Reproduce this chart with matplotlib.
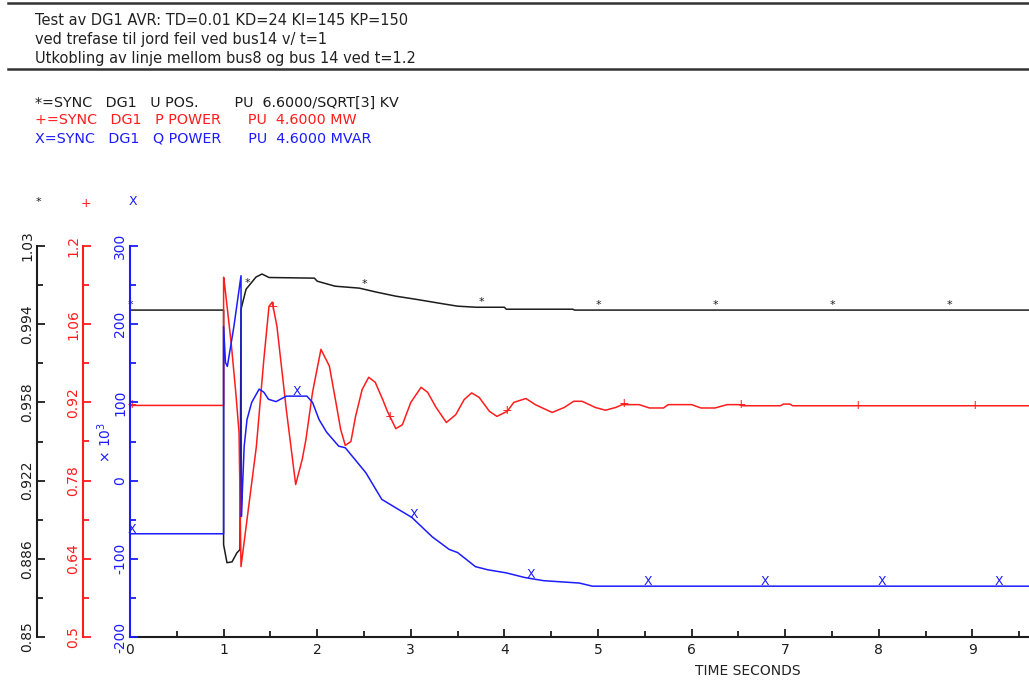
import numpy as np
import matplotlib.pyplot as plt
from matplotlib.lines import Line2D
from matplotlib.ticker import FixedLocator, MultipleLocator

plt.rcParams['font.family'] = ['DejaVu Sans']

W, H = 1029, 680

title_lines = ["Test av DG1 AVR: TD=0.01 KD=24 KI=145 KP=150",
               "ved trefase til jord feil ved bus14 v/ t=1",
               "Utkobling av linje mellom bus8 og bus 14 ved t=1.2"]
legend_lines = ["*=SYNC   DG1   U POS.        PU  6.6000/SQRT[3] KV",
                "+=SYNC   DG1   P POWER      PU  4.6000 MW",
                "X=SYNC   DG1   Q POWER      PU  4.6000 MVAR"]

# U POS. (pu)
u_t = [0, 1.0, 1.0, 1.036, 1.09, 1.143, 1.175, 1.186, 1.24, 1.346, 1.41, 1.485,
       1.97, 2.0, 2.19, 2.45, 2.63, 2.84, 3.05, 3.23, 3.37, 3.5, 3.7, 4.0, 4.02,
       4.73, 4.75, 9.6]
u_v = [1.0005, 1.0005, 0.8925, 0.8842, 0.8846, 0.8888, 0.8902, 1.0009, 1.0101,
       1.0157, 1.0171, 1.0155, 1.0152, 1.0138, 1.0115, 1.0106, 1.0088, 1.0069,
       1.0055, 1.0042, 1.0032, 1.0023, 1.0018, 1.0018, 1.0009, 1.0009, 1.0005,
       1.0005]

# P POWER (pu)
p_t = [0, 1.0, 1.0, 1.004, 1.08, 1.13, 1.165, 1.186, 1.24, 1.35, 1.43, 1.485,
       1.52, 1.57, 1.67, 1.77, 1.84, 1.88, 1.95, 2.04, 2.13, 2.2, 2.25, 2.30,
       2.36, 2.41, 2.48, 2.55, 2.62, 2.70, 2.75, 2.84, 2.91, 3.0, 3.11, 3.18,
       3.27, 3.38, 3.48, 3.57, 3.65, 3.73, 3.84, 3.92, 4.03, 4.1, 4.23, 4.33,
       4.51, 4.64, 4.74, 4.83, 4.97, 5.08, 5.19, 5.26, 5.44, 5.55, 5.7, 5.75,
       6.0, 6.1, 6.25, 6.38, 6.5, 6.55, 6.95, 6.98, 7.05, 7.08, 9.6]
p_v = [0.9146, 0.9146, 1.144, 1.141, 1.028, 0.938, 0.866, 0.626, 0.697, 0.841,
       0.997, 1.092, 1.0995, 1.056, 0.907, 0.773, 0.818, 0.854, 0.938, 1.015,
       0.985, 0.920, 0.872, 0.843, 0.850, 0.895, 0.943, 0.965, 0.956, 0.925,
       0.904, 0.873, 0.880, 0.920, 0.947, 0.938, 0.911, 0.884, 0.898, 0.925,
       0.937, 0.929, 0.904, 0.895, 0.904, 0.920, 0.927, 0.916, 0.902, 0.911,
       0.922, 0.922, 0.911, 0.906, 0.911, 0.916, 0.916, 0.910, 0.910, 0.916,
       0.916, 0.910, 0.910, 0.916, 0.916, 0.914, 0.914, 0.917, 0.917, 0.914,
       0.914]

# Q POWER (x 10^3)
q_t = [0, 1.0, 1.0, 1.02, 1.04, 1.11, 1.186, 1.19, 1.2, 1.22, 1.25, 1.3, 1.38,
       1.43, 1.48, 1.56, 1.67, 1.8, 1.89, 1.95, 2.02, 2.1, 2.23, 2.3, 2.52, 2.69,
       2.87, 3.01, 3.23, 3.41, 3.5, 3.69, 3.82, 4.02, 4.22, 4.42, 4.8, 4.94, 9.6]
q_v = [-68, -68, 197, 151, 146, 197, 262, -46, -15, 44, 78, 100, 117, 113, 104,
       101, 108, 108, 108, 100, 78, 62, 44, 42, 10, -24, -37, -47, -72, -88,
       -92, -110, -114, -118, -124, -128, -131, -135, -135]

u_marks = [0, 1.25, 2.5, 3.75, 5.0, 6.25, 7.5, 8.75]
p_marks = [0.02, 1.53, 2.78, 4.03, 5.28, 6.53, 7.78, 9.03]
q_marks = [0.02, 1.78, 3.03, 4.28, 5.53, 6.78, 8.03, 9.28]

u_ticks = [0.85, 0.886, 0.922, 0.958, 0.994, 1.03]
u_labels = ['0.85', '0.886', '0.922', '0.958', '0.994', '1.03']
p_ticks = [0.5, 0.64, 0.78, 0.92, 1.06, 1.2]
p_labels = ['0.5', '0.64', '0.78', '0.92', '1.06', '1.2']
q_ticks = [-200, -100, 0, 100, 200, 300]
q_labels = ['-200', '-100', '0', '100', '200', '300']

black, red, blue = '#1c1c1c', '#ff1c1c', '#1c1cff'


def fx(x):
    return x / W


def fy(y):
    return 1 - y / H


fig = plt.figure(figsize=(W / 100, H / 100), dpi=100)

# header
for y in (3, 69):
    fig.add_artist(Line2D([fx(8), 1], [fy(y), fy(y)], color='#333333', lw=1.8))
for i, s in enumerate(title_lines):
    fig.text(fx(35), fy(25 + 19 * i), s, fontsize=10.5, color='#222222', va='baseline')
for s, c, y in zip(legend_lines, [black, red, blue], [107, 124, 142]):
    fig.text(fx(35), fy(y), s, fontsize=10.3, color=c, va='baseline')

left, right, top, bottom = 130, 1029, 246, 637
ax_u = fig.add_axes([fx(left), fy(bottom), fx(right - left), (bottom - top) / H])
ax_p = ax_u.twinx()
ax_q = ax_u.twinx()


def setup(ax, color, ticks, labels, x_spine):
    ax.set_ylim(ticks[0], ticks[-1])
    for s in ax.spines.values():
        s.set_visible(False)
    sp = ax.spines['left']
    sp.set_visible(True)
    sp.set_position(('axes', (x_spine - left) / (right - left)))
    sp.set_color(color)
    sp.set_linewidth(1.5)
    ax.yaxis.set_ticks_position('left')
    ax.set_yticks(ticks)
    ax.set_yticklabels(labels, rotation=90, va='center')
    step = ticks[1] - ticks[0]
    ax.yaxis.set_minor_locator(FixedLocator(np.array(ticks[:-1]) + step / 2))
    ax.tick_params(axis='y', which='both', direction='in', colors=color,
                   labelsize=10, pad=2, width=1.3)
    ax.tick_params(axis='y', which='major', length=5.5)
    ax.tick_params(axis='y', which='minor', length=4)


setup(ax_u, black, u_ticks, u_labels, 37)
setup(ax_p, red, p_ticks, p_labels, 83)
setup(ax_q, blue, q_ticks, q_labels, 130)

ax_u.spines['bottom'].set_visible(True)
ax_u.spines['bottom'].set_linewidth(1.5)
ax_u.spines['bottom'].set_color(black)
ax_u.set_xlim(0, (right - left) / 93.6)
ax_u.set_xticks(range(10))
ax_u.xaxis.set_minor_locator(MultipleLocator(0.5))
ax_u.tick_params(axis='x', which='both', direction='in', colors=black,
                 labelsize=10, pad=4, width=1.3)
ax_u.tick_params(axis='x', which='major', length=5.5)
ax_u.tick_params(axis='x', which='minor', length=4)

ax_u.plot(u_t, u_v, color=black, lw=1.1)
ax_p.plot(p_t, p_v, color=red, lw=1.1)
ax_q.plot(q_t, q_v, color=blue, lw=1.1)


def marks(ax, t, v, tm, sym, color, dy, size):
    for tt in tm:
        ax.annotate(sym, (tt, np.interp(tt, t, v)), xytext=(0, dy),
                    textcoords='offset points', ha='center', va='baseline',
                    color=color, fontsize=size, annotation_clip=False)


marks(ax_u, u_t, u_v, u_marks, '*', black, 1.5, 8)
marks(ax_p, p_t, p_v, p_marks, '+', red, -2, 9)
marks(ax_q, q_t, q_v, q_marks, 'X', blue, 0.5, 9)

fig.text(fx(38), fy(205), '*', fontsize=8, color=black, ha='center', va='baseline')
fig.text(fx(86), fy(207), '+', fontsize=9, color=red, ha='center', va='baseline')
fig.text(fx(133), fy(205), 'X', fontsize=9, color=blue, ha='center', va='baseline')
fig.text(fx(105), fy(442), '× 10$^3$', fontsize=10, color=blue, rotation=90,
         ha='center', va='center')
fig.text(fx(748), fy(671), 'TIME SECONDS', fontsize=10, color='#222222',
         ha='center', va='center')

fig.savefig('out.png', dpi=100)
